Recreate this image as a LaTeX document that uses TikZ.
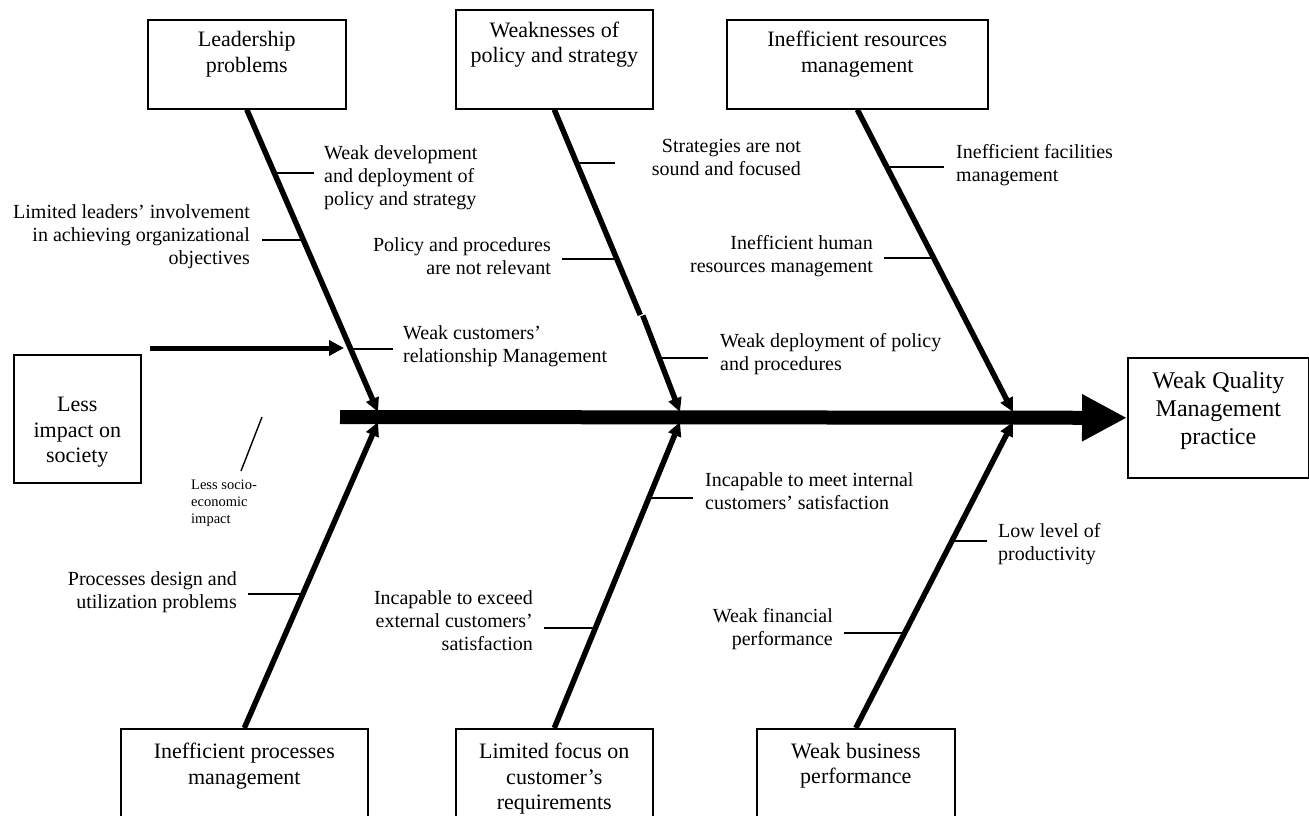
\documentclass[tikz,border=0pt]{standalone}
\usepackage{fontspec}
\setmainfont{Liberation Serif}
\usetikzlibrary{arrows.meta,calc}
\begin{document}
\begin{tikzpicture}[x=1pt,y=-1pt,
  box/.style={draw, line width=1.6pt, inner sep=0pt, anchor=north west},
  boxtext/.style={font=\fontsize{22}{25.5}\selectfont, align=center, anchor=north, inner sep=0pt},
  bigtext/.style={font=\fontsize{24}{28}\selectfont, align=center, anchor=north, inner sep=0pt},
  lblL/.style={font=\fontsize{20}{23}\selectfont, align=left, anchor=north west, inner sep=0pt},
  lblR/.style={font=\fontsize{20}{23}\selectfont, align=right, anchor=north east, inner sep=0pt},
  smalltext/.style={font=\fontsize{14.5}{17}\selectfont, align=left, anchor=north west, inner sep=0pt},
  bone/.style={line width=5.5pt, -{Triangle[length=14pt,width=13pt]}},
  boneplain/.style={line width=5.5pt},
  tick/.style={line width=1.4pt},
  spine/.style={line width=14pt, -{Triangle[length=45pt,width=44pt]}},
  feed/.style={line width=5pt, -{Triangle[length=15pt,width=15pt]}}
]
\useasboundingbox (0,0) rectangle (1309,816);
\clip (0,0) rectangle (1309,816);

% boxes
\node[box, minimum width=198pt, minimum height=89pt] (lead) at (147,19) {};
\node[box, minimum width=197pt, minimum height=99pt] (weak) at (455,9) {};
\node[box, minimum width=261pt, minimum height=89pt] (res) at (726,19) {};
\node[box, minimum width=127pt, minimum height=128pt] (soc) at (13,354) {};
\node[box, minimum width=181pt, minimum height=120pt] (qm) at (1127,357) {};
\node[box, minimum width=247pt, minimum height=120pt] (proc) at (120,728) {};
\node[box, minimum width=197pt, minimum height=120pt] (focus) at (455,728) {};
\node[box, minimum width=198pt, minimum height=120pt] (bus) at (756,728) {};

% box texts
\node[boxtext] (leadT) at ($(lead.north)+(0,12.5)$) {Leadership\\problems};
\node[boxtext] (weakT) at ($(weak.north)+(0,12.5)$) {Weaknesses of\\policy and strategy};
\node[boxtext] (resT) at ($(res.north)+(0,12)$) {Inefficient resources\\management};
\node[boxtext] (socT) at ($(soc.north)+(0,43)$) {Less\\impact on\\society};
\node[bigtext] (qmT) at ($(qm.north)+(0,15)$) {Weak Quality\\Management\\practice};
\node[boxtext] (procT) at ($(proc.north)+(0,15)$) {Inefficient processes\\management};
\node[boxtext] (focusT) at ($(focus.north)+(0,15)$) {Limited focus on\\customer’s\\requirements};
\node[boxtext] (busT) at ($(bus.north)+(0,15)$) {Weak business\\performance};

% spine
\coordinate (spS) at (340,417);
\draw[spine] (spS) -- (qm.west);

% junctions
\coordinate (j1u) at (378,412);
\coordinate (j2u) at (680,412);
\coordinate (j3u) at (1013,412);
\coordinate (j1d) at (378,422);
\coordinate (j2d) at (680,422);
\coordinate (j3d) at (1013,422);
\coordinate (wg1) at (640.3,315);
\coordinate (wg2) at (642.8,315.5);

% bones
\draw[bone] (lead.south) -- (j1u);
\draw[boneplain] (weak.south) -- (wg1);
\draw[bone] (wg2) -- (j2u);
\draw[bone] (res.south) -- (j3u);
\draw[bone] (proc.north) -- (j1d);
\draw[bone] (focus.north) -- (j2d);
\draw[bone] (bus.north) -- (j3d);

% feed arrow
\coordinate (fS) at (150,348);
\coordinate (fE) at (344,348);
\draw[feed] (fS) -- (fE);

% labels
\node[lblL] (l1) at (324,145) {Weak development\\and deployment of\\policy and strategy};
\node[lblR] (l2) at (250,204) {Limited leaders’ involvement\\in achieving organizational\\objectives};
\node[lblR] (l3) at (801,139) {Strategies are not\\sound and focused};
\node[lblR] (l4) at (551,237) {Policy and procedures\\are not relevant};
\node[lblR] (l5) at (873,235) {Inefficient human\\resources management};
\node[lblL] (l6) at (956,144) {Inefficient facilities\\management};
\node[lblL] (l7) at (403,325) {Weak customers’\\relationship Management};
\node[lblL] (l8) at (720,333) {Weak deployment of policy\\and procedures};
\node[lblL] (l9) at (705,472) {Incapable to meet internal\\customers’ satisfaction};
\node[lblL] (l10) at (998,523) {Low level of\\productivity};
\node[lblR] (l11) at (533,590) {Incapable to exceed\\external customers’\\satisfaction};
\node[lblR] (l12) at (833,608) {Weak financial\\performance};
\node[lblR] (l13) at (237,571) {Processes design and\\utilization problems};
\node[smalltext] (l14) at (191,480) {Less socio-\\economic\\impact};

% ticks
\coordinate (k1a) at (275,173);   \coordinate (k1b) at (314,173);
\coordinate (k2a) at (262,240);   \coordinate (k2b) at (304,240);
\coordinate (k3a) at (352,349);   \coordinate (k3b) at (393,349);
\coordinate (k4a) at (576,163);   \coordinate (k4b) at (615,163);
\coordinate (k5a) at (562,259);   \coordinate (k5b) at (616.5,259);
\coordinate (k6a) at (658,358);   \coordinate (k6b) at (708,358);
\coordinate (k7a) at (887.5,167); \coordinate (k7b) at (944,167);
\coordinate (k8a) at (884,258);   \coordinate (k8b) at (934.5,258);
\coordinate (k9a) at (248,594);   \coordinate (k9b) at (303.6,594);
\coordinate (k10a) at (649.6,498); \coordinate (k10b) at (693,498);
\coordinate (k11a) at (544,628);  \coordinate (k11b) at (596,628);
\coordinate (k12a) at (952,541);  \coordinate (k12b) at (987,541);
\coordinate (k13a) at (844,633);  \coordinate (k13b) at (904,633);
\foreach \k in {1,...,13} {\draw[tick] (k\k a) -- (k\k b);}

% socio-economic line
\coordinate (s1) at (262,417);
\coordinate (s2) at (241,471);
\draw[tick] (s1) -- (s2);
\end{tikzpicture}
\end{document}
